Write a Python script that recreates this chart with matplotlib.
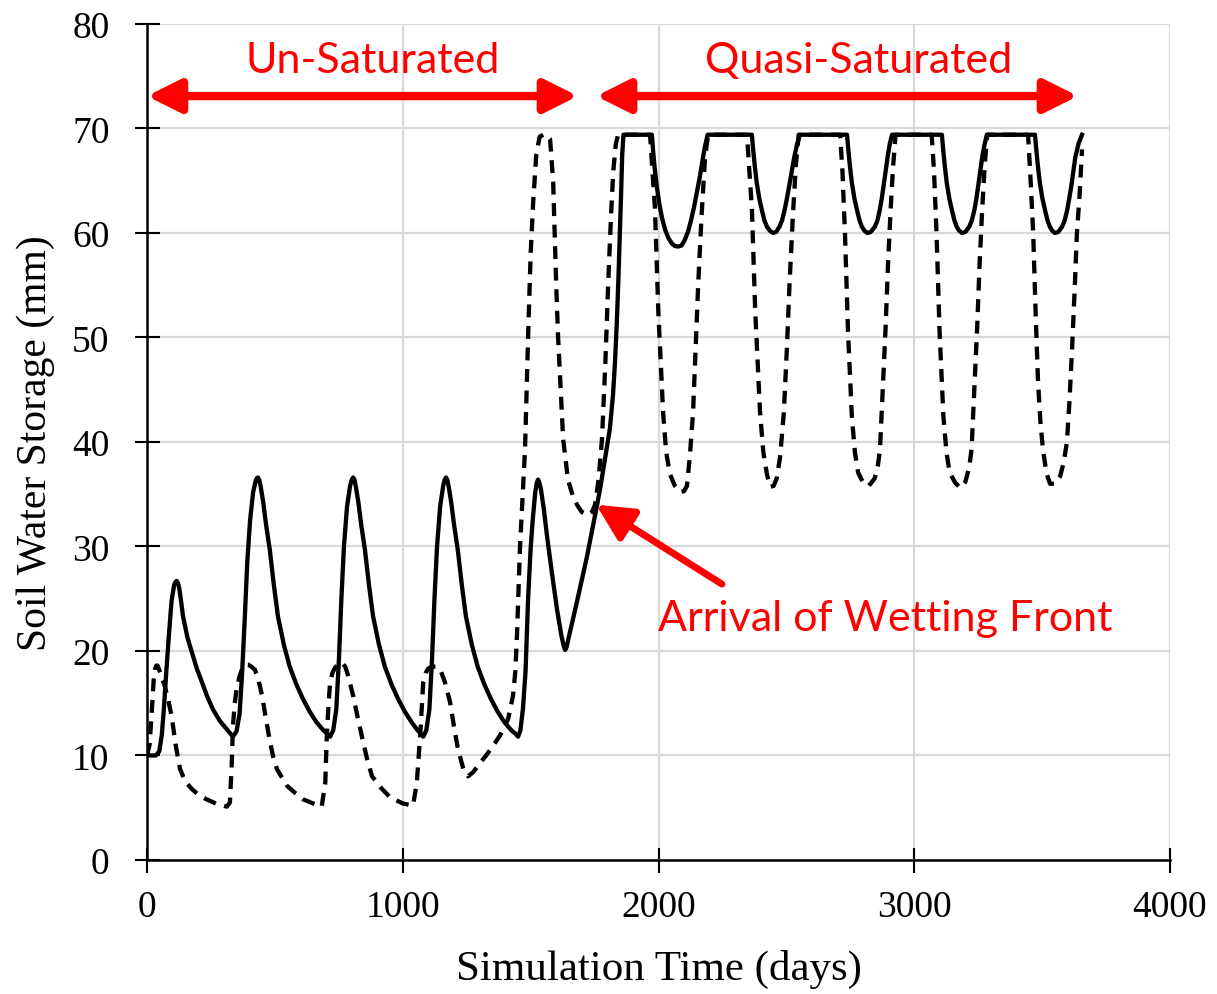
import matplotlib
matplotlib.use("Agg")
import matplotlib.pyplot as plt

# solid line (soil water storage, mm)
solid_x = [0, 35, 48, 58, 66, 74, 84, 96, 106, 111, 116, 121, 126, 133, 141, 158, 175, 195, 215, 236, 258, 285, 312, 325, 336,
           350, 362, 372, 382, 392, 403, 415, 425, 430, 434, 439, 444, 454, 466, 480, 496, 512, 535, 558, 584, 610, 636, 662, 690, 704, 716,
           728, 740, 750, 760, 770, 782, 794, 801, 806, 811, 816, 826, 838, 852, 868, 884, 907, 930, 956, 982, 1008, 1034, 1058, 1070, 1080,
           1092, 1104, 1114, 1124, 1134, 1146, 1158, 1164, 1169, 1174, 1179, 1189, 1201, 1215, 1231, 1247, 1270, 1293, 1319, 1345, 1371, 1397, 1425, 1440, 1451,
           1460, 1470, 1480, 1490, 1500, 1508, 1518, 1524, 1529, 1534, 1540, 1552, 1564, 1583, 1603, 1620, 1630, 1635, 1641, 1648, 1665, 1681, 1700, 1720, 1740,
           1760, 1775, 1791, 1810, 1822, 1830, 1837, 1843, 1849, 1854, 1858, 1863,
           1974, 1979, 1985, 1993, 2003, 2014, 2026, 2039, 2052, 2064, 2077, 2090, 2102, 2115, 2127, 2139, 2150, 2161, 2171, 2181, 2192,
           2365, 2370, 2376, 2384, 2394, 2404, 2414, 2424, 2436, 2448, 2460, 2473, 2483, 2493, 2502, 2511, 2521, 2531, 2542, 2553,
           2737, 2742, 2748, 2756, 2766, 2776, 2786, 2795, 2806, 2817, 2830, 2846, 2856, 2865, 2873, 2880, 2888, 2896, 2904, 2913,
           3108, 3113, 3119, 3127, 3137, 3147, 3157, 3166, 3176, 3187, 3200, 3215, 3225, 3235, 3243, 3250, 3258, 3266, 3275, 3284,
           3472, 3477, 3483, 3491, 3501, 3511, 3521, 3530, 3540, 3550, 3563, 3578, 3588, 3598, 3606, 3614, 3622, 3630, 3643, 3656]
solid_y = [10, 10, 10.4, 12, 14.5, 17.5, 21, 24.8, 26.3, 26.6, 26.7, 26.5, 26, 24.8, 23.3, 21.3, 19.9, 18.3, 17, 15.6, 14.4, 13.3, 12.5, 12.1, 11.8,
           12.3, 14, 18, 23, 28.5, 32.5, 35.2, 36.3, 36.55, 36.6, 36.35, 35.8, 34.3, 32, 29.7, 26.3, 23.3, 20.6, 18.5, 16.8, 15.4, 14.2, 13.2, 12.4, 12.1, 11.8,
           12.4, 14.4, 19, 25, 30, 33.8, 35.8, 36.4, 36.6, 36.4, 35.8, 34.3, 32, 29.7, 26.3, 23.3, 20.6, 18.5, 16.8, 15.4, 14.2, 13.2, 12.4, 12.1, 11.8,
           12.4, 14.4, 19, 25, 30, 33.8, 35.8, 36.4, 36.6, 36.4, 35.8, 34.3, 32, 29.7, 26.3, 23.3, 20.6, 18.5, 16.8, 15.4, 14.2, 13.2, 12.4, 12.1, 11.8,
           12.4, 14.5, 18, 25, 29.8, 32.5, 35.2, 36.1, 36.4, 36.1, 35.5, 33.5, 31, 27.5, 24, 21.5, 20.4, 20.1, 20.4, 21.2, 23, 24.7, 26.8, 29, 31.5,
           34, 36, 38.4, 41.3, 44.5, 47.7, 51.5, 55.5, 60, 64, 67.5, 69.4,
           69.4, 67.8, 66.2, 64.5, 62.8, 61.4, 60.3, 59.5, 59, 58.75, 58.7, 58.8, 59.3, 60.1, 61.2, 62.5, 63.9, 65.3, 66.8, 68.2, 69.4,
           69.4, 68, 66.5, 64.8, 63.3, 62.2, 61.2, 60.6, 60.2, 60, 60.1, 60.6, 61.2, 62.2, 63.3, 64.5, 65.9, 67.3, 68.5, 69.4,
           69.4, 68, 66.5, 64.8, 63.3, 62.2, 61.2, 60.6, 60.2, 60, 60.1, 60.6, 61.2, 62.2, 63.3, 64.5, 65.9, 67.3, 68.5, 69.4,
           69.4, 68, 66.5, 64.8, 63.3, 62.2, 61.2, 60.6, 60.2, 60, 60.1, 60.6, 61.2, 62.2, 63.3, 64.5, 65.9, 67.3, 68.5, 69.4,
           69.4, 68, 66.5, 64.8, 63.3, 62.2, 61.2, 60.6, 60.2, 60, 60.1, 60.6, 61.2, 62.2, 63.3, 64.5, 65.9, 67.3, 68.6, 69.4]

# dashed line
dash_x = [0, 10, 18, 26, 31, 36, 41, 46, 58, 70, 83, 96, 112, 129, 150, 175, 203, 233, 270, 312, 324, 331, 336, 343, 350, 362, 375, 385, 395,
          408, 422, 436, 450, 465, 481, 494, 508, 547, 580, 611, 650, 683, 697, 703, 710, 716, 725, 735, 750, 762, 775, 787, 806, 825, 845, 862, 880,
          915, 950, 1001, 1040, 1055, 1068, 1080, 1090, 1099, 1115, 1134, 1150, 1165, 1185, 1200, 1216, 1237, 1255, 1275, 1300, 1329, 1355, 1380,
          1412, 1431, 1440, 1447, 1458, 1470, 1478, 1490, 1500, 1510, 1522, 1535, 1549, 1562, 1576, 1588, 1600, 1607, 1627, 1646, 1665, 1681, 1700,
          1725, 1740, 1752, 1766, 1779, 1792, 1803, 1814, 1823, 1833, 1842,
          1967, 1976, 1986, 1999, 2018, 2030, 2045, 2064, 2084, 2100, 2111, 2122, 2135, 2145, 2155, 2168, 2182, 2194,
          2346, 2355, 2365, 2378, 2397, 2410, 2424, 2436, 2450, 2462, 2475, 2490, 2502, 2512, 2525, 2537, 2548,
          2710, 2719, 2729, 2741, 2756, 2768, 2780, 2800, 2822, 2845, 2858, 2866, 2878, 2888, 2897, 2907, 2917, 2927,
          3068, 3077, 3087, 3099, 3114, 3126, 3138, 3160, 3180, 3200, 3215, 3224, 3236, 3246, 3255, 3265, 3275, 3285,
          3445, 3455, 3465, 3475, 3484, 3493, 3503, 3517, 3531, 3550, 3570, 3584, 3597, 3607, 3617, 3627, 3636, 3646, 3656]
dash_y = [10, 11, 14, 17.2, 18.2, 18.6, 18.6, 18.3, 17.5, 16.6, 15.3, 13.8, 11, 8.7, 7.5, 6.8, 6.2, 5.8, 5.4, 5.1, 5.5, 9, 12.8, 15, 16.3, 17.6, 18.5, 18.7, 18.7,
          18.5, 18.2, 17.2, 15.7, 13.5, 11.3, 9.8, 8.7, 7.1, 6.4, 5.8, 5.4, 5.1, 7.4, 11.9, 15, 17, 17.9, 18.4, 18.8, 18.9, 18.5, 17.6, 15.7, 13.5, 11.3, 9.5, 8,
          6.9, 6, 5.4, 5.2, 7.4, 11.9, 17, 17.9, 18.3, 18.5, 18.5, 18, 17, 15.1, 12.8, 10.6, 8.7, 8.0, 8.4, 9.2, 10.1, 11, 11.9,
          13.5, 15.7, 18, 21.8, 29.7, 35.5, 39.3, 50, 58, 63, 67.5, 69.2, 69.4, 69.4, 69, 64.9, 55, 50.2, 40.3, 36.4, 34.8, 34, 33.3,
          33, 33.3, 34, 36.5, 40.3, 47.5, 55, 61.5, 65.9, 68.5, 69.4,
          69.4, 66, 62.4, 52.6, 42.8, 39, 36.9, 35.8, 35.2, 35.3, 35.8, 38.5, 42.8, 49, 55, 61.5, 67.3, 69.4,
          69.4, 66, 62.4, 52.6, 42.8, 39, 36.9, 35.7, 35.8, 36.5, 38.5, 42.8, 49, 55, 61.5, 66.5, 69.4,
          69.4, 66, 60, 50.5, 42.4, 39, 37.1, 36.1, 35.8, 36.5, 37.8, 39.3, 45.7, 51, 56.8, 62, 66.3, 69.4,
          69.4, 66, 60, 50.5, 42.4, 39, 37.1, 36.1, 35.6, 36.2, 37.6, 39.3, 45.7, 51, 56.8, 62, 66.3, 69.4,
          69.4, 65, 60, 52, 45.7, 42, 39.3, 37, 36, 36, 36.7, 38, 40, 44, 48.9, 54.5, 60, 63.5, 68]

x_ticks = [0, 1000, 2000, 3000, 4000]
y_ticks = [0, 10, 20, 30, 40, 50, 60, 70, 80]

serif = "Liberation Serif"
red = "#ff0000"

fig = plt.figure(figsize=(12.17, 9.95), dpi=100)
ax = fig.add_axes([0.1208, 0.1347, 0.8406, 0.8402])

ax.plot(dash_x, dash_y, color="black", lw=3.1, dashes=(3.0, 2.0), zorder=3)
ax.plot(solid_x, solid_y, color="black", lw=3.1, zorder=4, solid_joinstyle="round")

ax.set_xlim(0, 4000)
ax.set_ylim(0, 80)
ax.set_xticks(x_ticks)
ax.set_yticks(y_ticks)
ax.grid(True, color="#d9d9d9", lw=1.6, zorder=0)
ax.set_axisbelow(True)

for side in ["top", "right"]:
    ax.spines[side].set_visible(False)
for side in ["left", "bottom"]:
    ax.spines[side].set_linewidth(1.8)
    ax.spines[side].set_color("black")

ax.tick_params(axis="both", direction="inout", length=18, width=1.5, color="black")
ax.tick_params(axis="x", pad=12)
ax.tick_params(axis="y", pad=18)
for lab in ax.get_xticklabels():
    lab.set_fontfamily(serif)
    lab.set_fontsize(27)
for lab in ax.get_yticklabels():
    lab.set_fontfamily(serif)
    lab.set_fontsize(27)

ax.set_xlabel("Simulation Time (days)", fontfamily=serif, fontsize=31, labelpad=18)
ax.set_ylabel("Soil Water Storage (mm)", fontfamily=serif, fontsize=30, labelpad=12)

# regime arrows
arrow_style = dict(arrowstyle="<|-|>,head_length=1.0,head_width=0.5", color=red, lw=6,
                   mutation_scale=20, shrinkA=0, shrinkB=0)
ax.annotate("", xy=(0, 73.1), xytext=(1685, 73.1), arrowprops=arrow_style, annotation_clip=False)
ax.annotate("", xy=(1756, 73.1), xytext=(3640, 73.1), arrowprops=arrow_style, annotation_clip=False)
ax.text(884, 76.6, "Un-Saturated", color=red, fontsize=31, family="Lato", ha="center", va="center")
ax.text(2784, 76.6, "Quasi-Saturated", color=red, fontsize=31, family="Lato", ha="center", va="center")

# wetting front arrow
ax.annotate("", xy=(1756, 34.0), xytext=(2248, 26.4),
            arrowprops=dict(arrowstyle="-|>,head_length=1.1,head_width=0.55", color=red, lw=5,
                            mutation_scale=20, shrinkA=0, shrinkB=0), zorder=5)
ax.text(2886, 23.2, "Arrival of Wetting Front", color=red, fontsize=31, family="Lato",
        ha="center", va="center")

fig.savefig("out.png", dpi=100)
